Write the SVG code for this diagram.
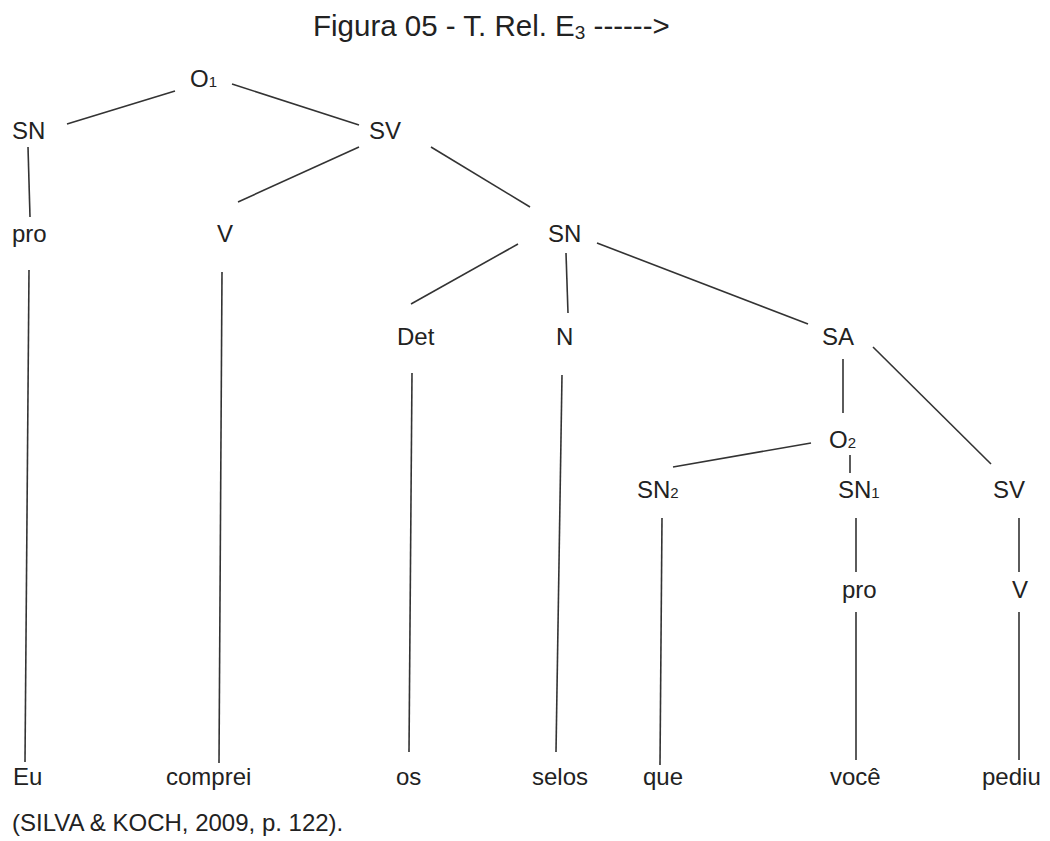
<svg xmlns="http://www.w3.org/2000/svg" width="1050" height="841" viewBox="0 0 1050 841">
<style>
text{font-family:"Liberation Sans",Arial,sans-serif;font-size:24px;fill:#222}
.title{font-size:29.5px}
.sub{font-size:15px}
.e line{stroke:#333;stroke-width:1.6;stroke-linecap:butt}
</style>
<rect width="1050" height="841" fill="#fff"/>
<text class="title" x="313" y="36">Figura 05 - T. Rel. E<tspan font-size="19" dy="3">3</tspan><tspan dy="-3"> ------&gt;</tspan></text>
<g class="e" id="connectors">
<line x1="175" y1="91" x2="67" y2="124"/>
<line x1="232" y1="84" x2="359" y2="125"/>
<line x1="28" y1="147" x2="30" y2="217"/>
<line x1="359" y1="147" x2="238" y2="202"/>
<line x1="431" y1="147" x2="530" y2="207"/>
<line x1="29" y1="270" x2="25" y2="762"/>
<line x1="222" y1="272" x2="219" y2="763"/>
<line x1="518" y1="244" x2="411" y2="304"/>
<line x1="566" y1="253" x2="568" y2="313"/>
<line x1="597" y1="243" x2="808" y2="324"/>
<line x1="412" y1="373" x2="409" y2="752"/>
<line x1="562" y1="375" x2="556" y2="752"/>
<line x1="843" y1="359" x2="843" y2="413"/>
<line x1="873" y1="347" x2="991" y2="464"/>
<line x1="811" y1="443" x2="673" y2="467"/>
<line x1="850" y1="455" x2="850" y2="473"/>
<line x1="662" y1="518" x2="660" y2="765"/>
<line x1="856" y1="518" x2="856" y2="572"/>
<line x1="1019" y1="518" x2="1019" y2="572"/>
<line x1="856" y1="612" x2="856" y2="760"/>
<line x1="1019" y1="612" x2="1019" y2="760"/>
</g>
<g id="n-O1"><text x="190" y="87">O<tspan class="sub">1</tspan></text></g>
<g id="n-SN-a"><text x="12" y="139">SN</text></g>
<g id="n-SV-a"><text x="369" y="139">SV</text></g>
<g id="n-pro-a"><text x="12" y="242">pro</text></g>
<g id="n-V-a"><text x="217" y="242">V</text></g>
<g id="n-SN-b"><text x="548" y="242">SN</text></g>
<g id="n-Det"><text x="397" y="345">Det</text></g>
<g id="n-N"><text x="556" y="345">N</text></g>
<g id="n-SA"><text x="822" y="345">SA</text></g>
<g id="n-O2"><text x="829" y="448">O<tspan class="sub">2</tspan></text></g>
<g id="n-SN2"><text x="637" y="498">SN<tspan class="sub">2</tspan></text></g>
<g id="n-SN1"><text x="838" y="498">SN<tspan class="sub">1</tspan></text></g>
<g id="n-SV-b"><text x="993" y="498">SV</text></g>
<g id="n-pro-b"><text x="842" y="598">pro</text></g>
<g id="n-V-b"><text x="1012" y="598">V</text></g>
<g id="w-Eu"><text x="13" y="785">Eu</text></g>
<g id="w-comprei"><text x="166" y="785">comprei</text></g>
<g id="w-os"><text x="396" y="785">os</text></g>
<g id="w-selos"><text x="532" y="785">selos</text></g>
<g id="w-que"><text x="643" y="785">que</text></g>
<g id="w-voce"><text x="830" y="785">você</text></g>
<g id="w-pediu"><text x="982" y="785">pediu</text></g>
<text x="12" y="831">(SILVA &amp; KOCH, 2009, p. 122).</text>
</svg>
